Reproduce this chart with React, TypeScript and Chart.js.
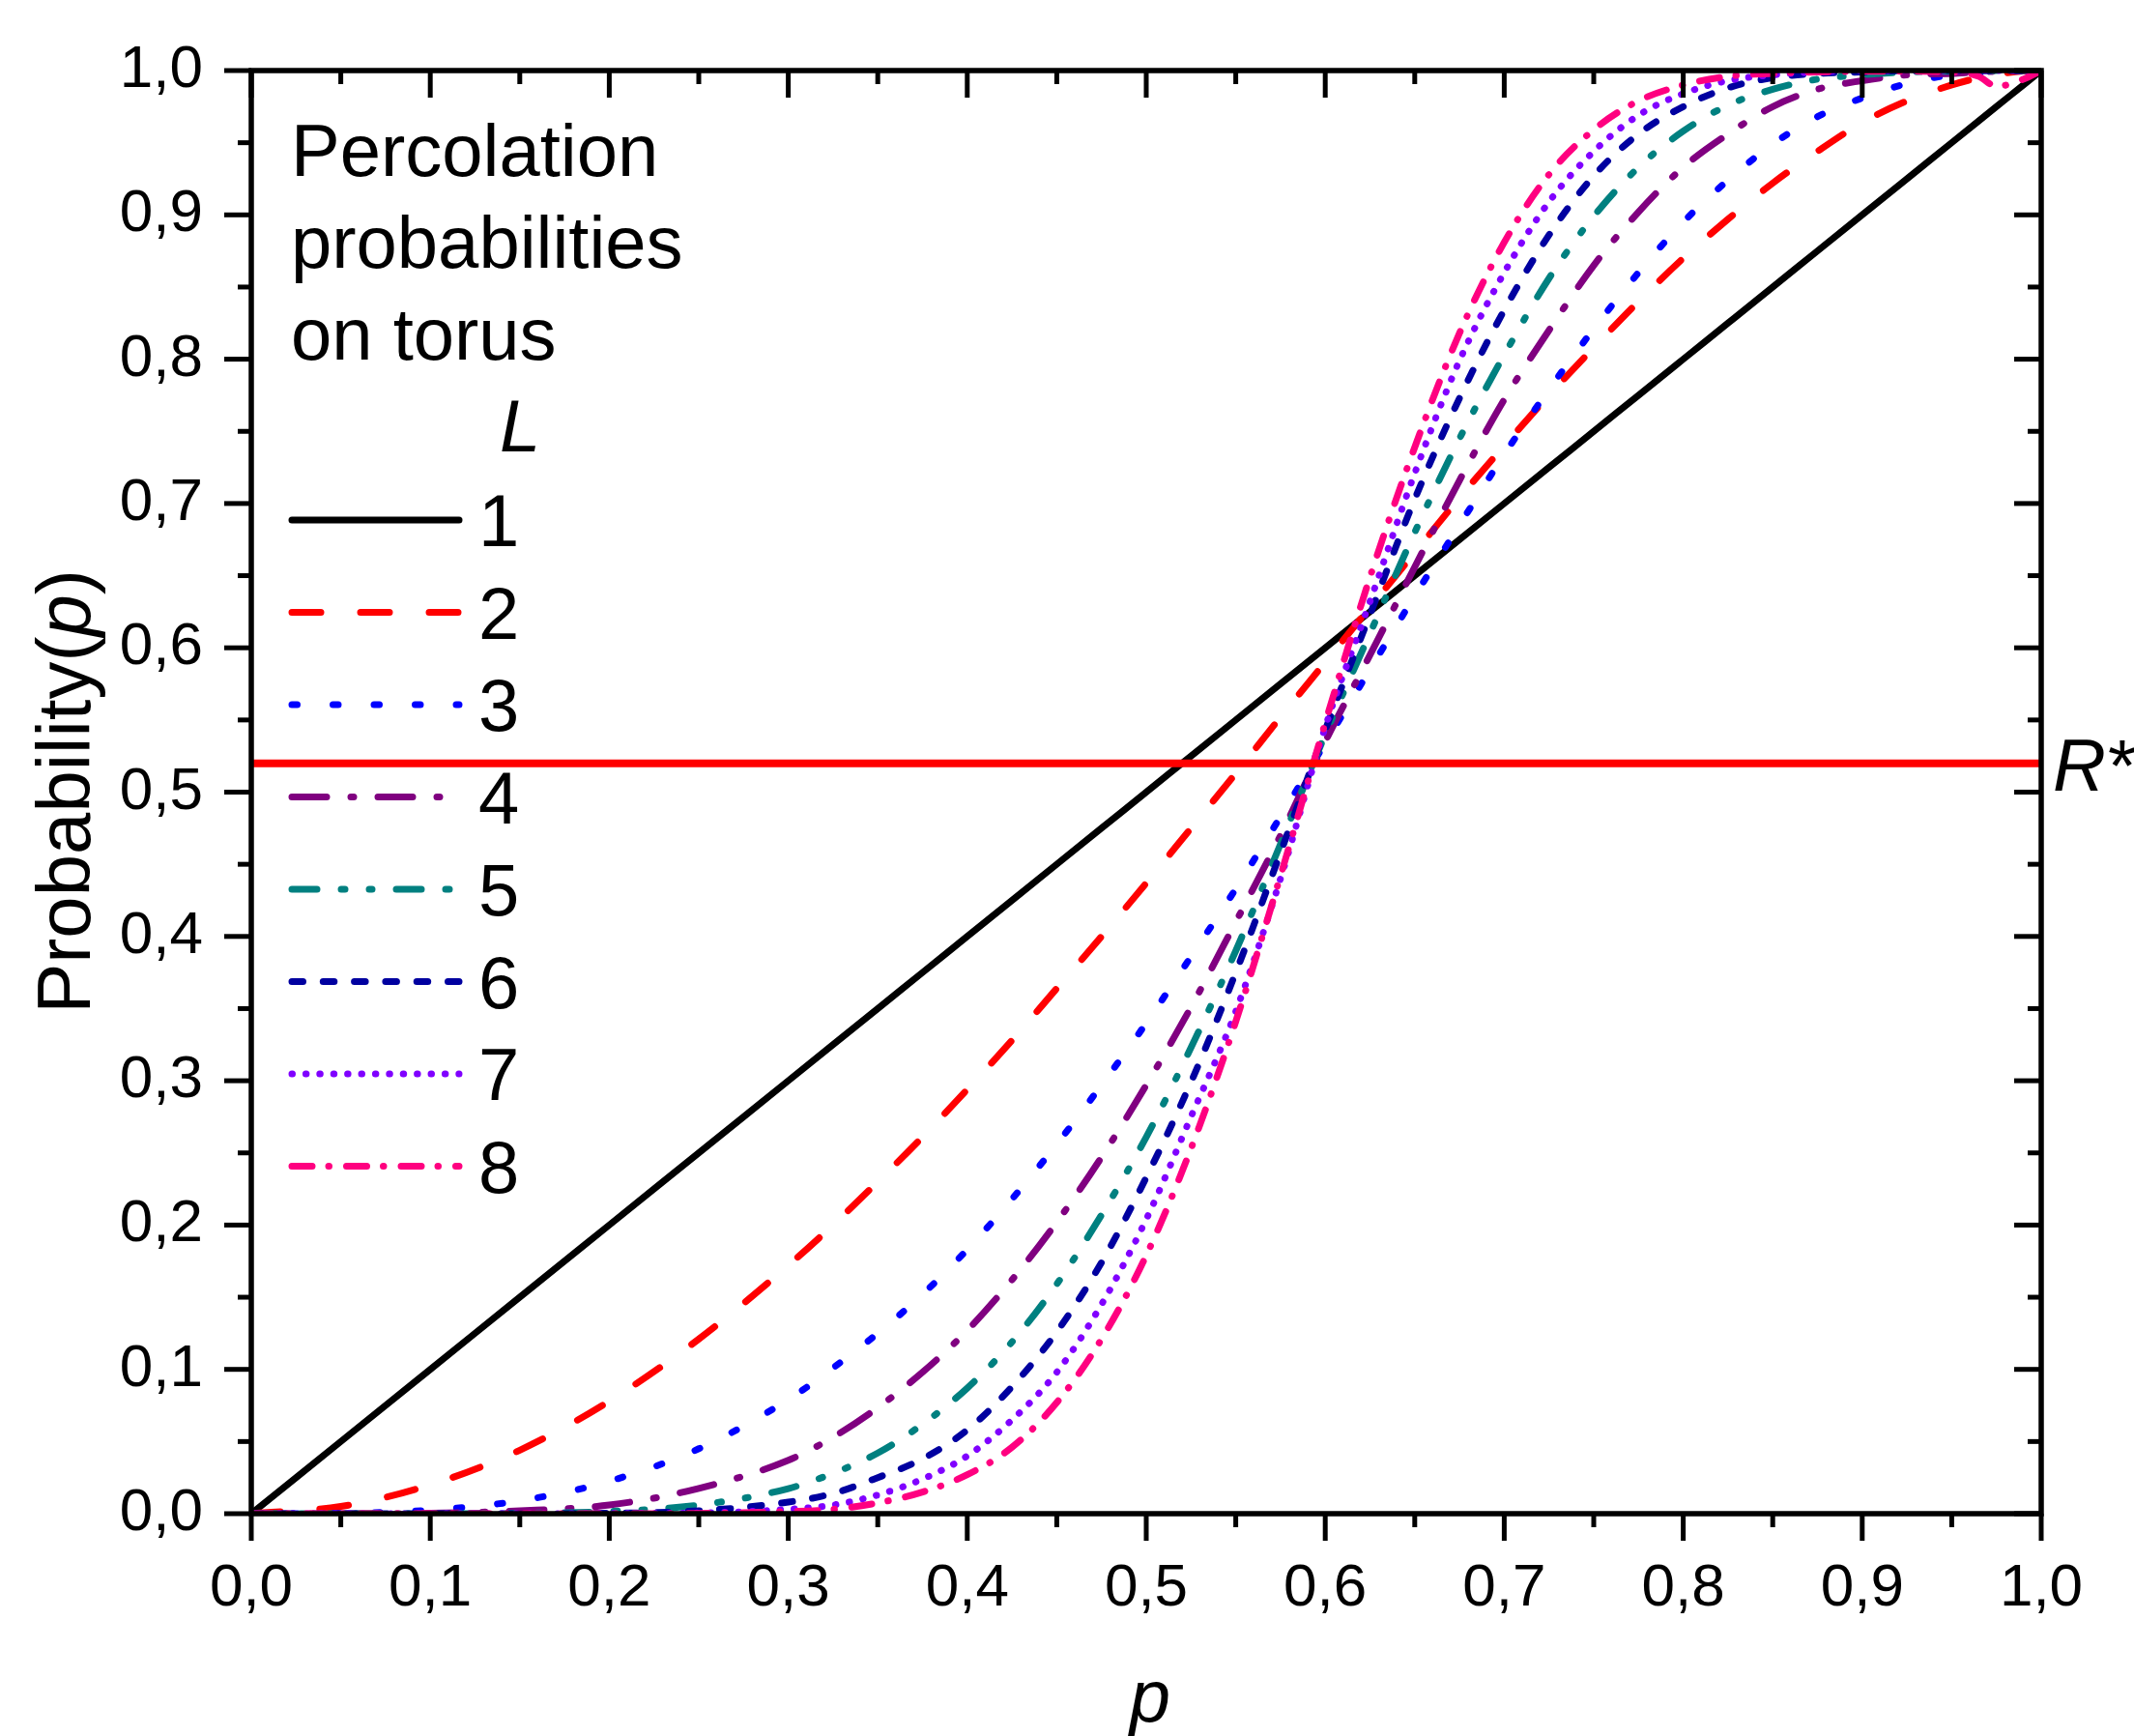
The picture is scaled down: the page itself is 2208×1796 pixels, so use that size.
import React, { useEffect, useRef } from "react";
import { Chart, registerables } from "chart.js";

Chart.register(...registerables);

// ---------------- data ----------------
const pGrid = [0, 0.05, 0.1, 0.15, 0.2, 0.25, 0.3, 0.325, 0.35, 0.375, 0.4, 0.425, 0.45, 0.475, 0.5, 0.525, 0.55, 0.575, 0.6, 0.625, 0.65, 0.675, 0.7, 0.725, 0.75, 0.775, 0.8, 0.825, 0.85, 0.875, 0.9, 0.925, 0.95, 0.965, 0.975, 0.99, 1];

const probL1 = [0, 0.05, 0.1, 0.15, 0.2, 0.25, 0.3, 0.325, 0.35, 0.375, 0.4, 0.425, 0.45, 0.475, 0.5, 0.525, 0.55, 0.575, 0.6, 0.625, 0.65, 0.675, 0.7, 0.725, 0.75, 0.775, 0.8, 0.825, 0.85, 0.875, 0.9, 0.925, 0.95, 0.965, 0.975, 0.99, 1];
const probL2 = [0, 0.005, 0.02, 0.044, 0.078, 0.121, 0.172, 0.2, 0.23, 0.261, 0.294, 0.328, 0.364, 0.4, 0.437, 0.475, 0.513, 0.552, 0.59, 0.628, 0.666, 0.704, 0.74, 0.775, 0.808, 0.84, 0.87, 0.897, 0.922, 0.944, 0.964, 0.979, 0.99, 0.995, 0.9975, 0.9996, 1];
const probL3 = [0, 0.0003, 0.0025, 0.009, 0.0225, 0.045, 0.079, 0.101, 0.125, 0.152, 0.183, 0.218, 0.256, 0.297, 0.34, 0.386, 0.433, 0.483, 0.534, 0.585, 0.636, 0.685, 0.734, 0.779, 0.821, 0.86, 0.895, 0.924, 0.949, 0.968, 0.981, 0.991, 0.997, 0.998, 0.999, 1, 1];
const probL4 = [0, 0, 0.0003, 0.002, 0.006, 0.0175, 0.037, 0.053, 0.0735, 0.098, 0.127, 0.162, 0.202, 0.247, 0.297, 0.351, 0.41, 0.47, 0.535, 0.595, 0.656, 0.716, 0.772, 0.82, 0.865, 0.902, 0.933, 0.956, 0.975, 0.987, 0.993, 0.997, 0.998, 0.999, 0.9995, 1, 1];
const probL5 = [0, 0, 0, 0.0003, 0.0015, 0.006, 0.0174, 0.028, 0.042, 0.062, 0.087, 0.119, 0.159, 0.207, 0.261, 0.323, 0.39, 0.464, 0.54, 0.61, 0.68, 0.745, 0.803, 0.856, 0.899, 0.933, 0.958, 0.976, 0.987, 0.994, 0.997, 0.999, 0.9995, 1, 1, 1, 1];
const probL6 = [0, 0, 0, 0, 0.0003, 0.002, 0.008, 0.014, 0.025, 0.038, 0.058, 0.088, 0.126, 0.174, 0.233, 0.299, 0.375, 0.458, 0.543, 0.623, 0.703, 0.773, 0.834, 0.886, 0.927, 0.956, 0.975, 0.988, 0.995, 0.998, 0.999, 1, 1, 1, 1, 1, 1];
const probL7 = [0, 0, 0, 0, 0.0001, 0.0005, 0.003, 0.006, 0.013, 0.024, 0.04, 0.065, 0.098, 0.145, 0.204, 0.275, 0.348, 0.44, 0.545, 0.632, 0.721, 0.799, 0.86, 0.909, 0.944, 0.969, 0.984, 0.993, 0.997, 0.999, 1, 1, 1, 1, 1, 1, 1];
const probL8 = [0, 0, 0, 0, 0, 0.0002, 0.0015, 0.003, 0.0075, 0.015, 0.027, 0.046, 0.077, 0.121, 0.179, 0.253, 0.341, 0.442, 0.548, 0.649, 0.739, 0.818, 0.881, 0.928, 0.959, 0.979, 0.99, 0.996, 0.998, 0.999, 0.9995, 0.9995, 0.999, 0.996, 0.989, 0.994, 1];

const rStarValue = 0.52;

const seriesNames = ["1", "2", "3", "4", "5", "6", "7", "8"];
const xTickMin = 0;
const xTickMax = 1;
const yTickMin = 0;
const yTickMax = 1;
const tickStep = 0.1;
const legendTitleLines = ["Percolation", "probabilities", "on torus"];
const legendHeader = "L";
const xTitle = "p";
const yTitleMain = "Probability(";
const yTitleItalic = "p";
const yTitleEnd = ")";

// ---------------- styles ----------------
const seriesColors = ["#000000", "#FF0000", "#0000FF", "#800080", "#008080", "#0000A0", "#8000FF", "#FF0080"];
const seriesDashes: number[][] = [
  [],
  [30, 41],
  [5.5, 37],
  [36, 25, 3, 25],
  [26, 25, 4, 25, 3, 25],
  [11.5, 20.8],
  [0.5, 13.9],
  [21, 17, 0.5, 18],
];
const FONT = '"Liberation Sans", Arial, Helvetica, sans-serif';
const LINE_W = 7;
const TEXT_PX = 76;

const W = 2208;
const H = 1796;

const decorPlugin = {
  id: "decor",
  afterDatasetsDraw(chart: any) {
    const { ctx, chartArea: a, scales } = chart;
    const xs = scales.x;
    const ys = scales.y;
    ctx.save();
    ctx.strokeStyle = "#000";
    ctx.lineWidth = 5.5;
    ctx.setLineDash([]);
    ctx.lineCap = "butt";
    ctx.beginPath();
    ctx.rect(a.left, a.top, a.right - a.left, a.bottom - a.top);
    ctx.stroke();

    const seg = (x1: number, y1: number, x2: number, y2: number) => {
      ctx.beginPath();
      ctx.moveTo(x1, y1);
      ctx.lineTo(x2, y2);
      ctx.stroke();
    };
    ctx.lineWidth = 5;
    const nMinor = Math.round((xTickMax - xTickMin) / (tickStep / 2));
    for (let i = 0; i <= nMinor; i++) {
      const v = xTickMin + (i * (xTickMax - xTickMin)) / nMinor;
      const major = i % 2 === 0;
      const len = major ? 28 : 14;
      const px = xs.getPixelForValue(v);
      seg(px, a.bottom, px, a.bottom + len); // bottom outward
      seg(px, a.top, px, a.top + len); // top inward
    }
    const nMinorY = Math.round((yTickMax - yTickMin) / (tickStep / 2));
    for (let i = 0; i <= nMinorY; i++) {
      const v = yTickMin + (i * (yTickMax - yTickMin)) / nMinorY;
      const major = i % 2 === 0;
      const len = major ? 28 : 14;
      const py = ys.getPixelForValue(v);
      seg(a.left - len, py, a.left, py); // left outward
      seg(a.right - len, py, a.right, py); // right inward
    }
    ctx.restore();
  },
  afterDraw(chart: any) {
    const { ctx, chartArea: a, scales } = chart;
    const ys = scales.y;
    ctx.save();
    ctx.fillStyle = "#000";

    // legend title
    ctx.font = `${TEXT_PX}px ${FONT}`;
    ctx.textAlign = "left";
    ctx.textBaseline = "alphabetic";
    legendTitleLines.forEach((t, i) => ctx.fillText(t, 301, 182 + i * 95));
    ctx.font = `italic ${TEXT_PX}px ${FONT}`;
    ctx.fillText(legendHeader, 517, 467);

    // legend entries
    seriesNames.forEach((name, i) => {
      const y = 538 + 95.5 * i;
      ctx.save();
      ctx.strokeStyle = seriesColors[i];
      ctx.lineWidth = LINE_W;
      ctx.lineCap = "round";
      ctx.setLineDash(seriesDashes[i]);
      ctx.beginPath();
      ctx.moveTo(302, y);
      ctx.lineTo(475, y);
      ctx.stroke();
      ctx.restore();
      ctx.font = `${TEXT_PX}px ${FONT}`;
      ctx.textAlign = "left";
      ctx.textBaseline = "alphabetic";
      ctx.fillText(name, 495, y + 27);
    });

    // R* label
    const ry = ys.getPixelForValue(rStarValue);
    ctx.font = `italic ${TEXT_PX}px ${FONT}`;
    ctx.textAlign = "left";
    ctx.fillText("R", a.right + 12, ry + 28);
    const rw = ctx.measureText("R").width;
    ctx.font = `${TEXT_PX}px ${FONT}`;
    ctx.fillText("*", a.right + 12 + rw + 2, ry + 28);

    // x title
    ctx.font = `italic ${TEXT_PX}px ${FONT}`;
    ctx.textAlign = "center";
    ctx.fillText(xTitle, (a.left + a.right) / 2 + 4, 1781);

    // y title (rotated)
    ctx.save();
    ctx.translate(93, 819);
    ctx.rotate(-Math.PI / 2);
    const fpx = 78;
    ctx.font = `${fpx}px ${FONT}`;
    const w1 = ctx.measureText(yTitleMain).width;
    const w3 = ctx.measureText(yTitleEnd).width;
    ctx.font = `italic ${fpx}px ${FONT}`;
    const w2 = ctx.measureText(yTitleItalic).width;
    const total = w1 + w2 + w3;
    let x0 = -total / 2;
    ctx.textAlign = "left";
    ctx.font = `${fpx}px ${FONT}`;
    ctx.fillText(yTitleMain, x0, 0);
    x0 += w1;
    ctx.font = `italic ${fpx}px ${FONT}`;
    ctx.fillText(yTitleItalic, x0, 0);
    x0 += w2;
    ctx.font = `${fpx}px ${FONT}`;
    ctx.fillText(yTitleEnd, x0, 0);
    ctx.restore();

    ctx.restore();
  },
};

const fmt = (v: any) => Number(v).toFixed(1).replace(".", ",");

export default function App() {
  const canvasRef = useRef<HTMLCanvasElement | null>(null);

  useEffect(() => {
    const canvas = canvasRef.current;
    if (!canvas) return;
    const curves = [probL1, probL2, probL3, probL4, probL5, probL6, probL7, probL8];
    const datasets: any[] = curves.map((vals, i) => ({
      label: seriesNames[i],
      data: pGrid.map((p, j) => ({ x: p, y: vals[j] })),
      borderColor: seriesColors[i],
      backgroundColor: seriesColors[i],
      borderWidth: LINE_W,
      borderDash: seriesDashes[i],
      borderCapStyle: "round",
      borderJoinStyle: "round",
      pointRadius: 0,
      fill: false,
      cubicInterpolationMode: "monotone",
      order: 9 - i,
    }));
    datasets.push({
      label: "R*",
      data: [
        { x: xTickMin, y: rStarValue },
        { x: xTickMax, y: rStarValue },
      ],
      borderColor: "#FF0000",
      borderWidth: 8,
      pointRadius: 0,
      fill: false,
      order: 0,
    });

    const chart = new Chart(canvas, {
      type: "line",
      data: { datasets },
      options: {
        animation: false,
        responsive: false,
        maintainAspectRatio: false,
        devicePixelRatio: 1,
        layout: { padding: { left: 0, right: 96, top: 73, bottom: 0 } },
        plugins: {
          legend: { display: false },
          tooltip: { enabled: false },
          title: { display: false },
        },
        scales: {
          x: {
            type: "linear",
            min: xTickMin,
            max: xTickMax,
            grid: { display: false, drawTicks: false },
            border: { display: false },
            ticks: {
              stepSize: tickStep,
              color: "#000",
              font: { family: FONT, size: 62 },
              padding: 41,
              maxRotation: 0,
              autoSkip: false,
              callback: fmt,
            },
            afterFit: (s: any) => {
              s.height = 230;
              s.paddingLeft = 0;
              s.paddingRight = 0;
            },
          },
          y: {
            type: "linear",
            min: yTickMin,
            max: yTickMax,
            grid: { display: false, drawTicks: false },
            border: { display: false },
            ticks: {
              stepSize: tickStep,
              color: "#000",
              font: { family: FONT, size: 62 },
              padding: 50,
              autoSkip: false,
              callback: fmt,
            },
            afterFit: (s: any) => {
              s.width = 260;
              s.paddingTop = 0;
              s.paddingBottom = 0;
            },
          },
        },
      } as any,
      plugins: [decorPlugin],
    });
    return () => chart.destroy();
  }, []);

  return (
    <div style={{ position: "absolute", left: 0, top: 0, width: W, height: H, background: "#fff" }}>
      <canvas ref={canvasRef} width={W} height={H} style={{ display: "block", width: W, height: H }} />
    </div>
  );
}
